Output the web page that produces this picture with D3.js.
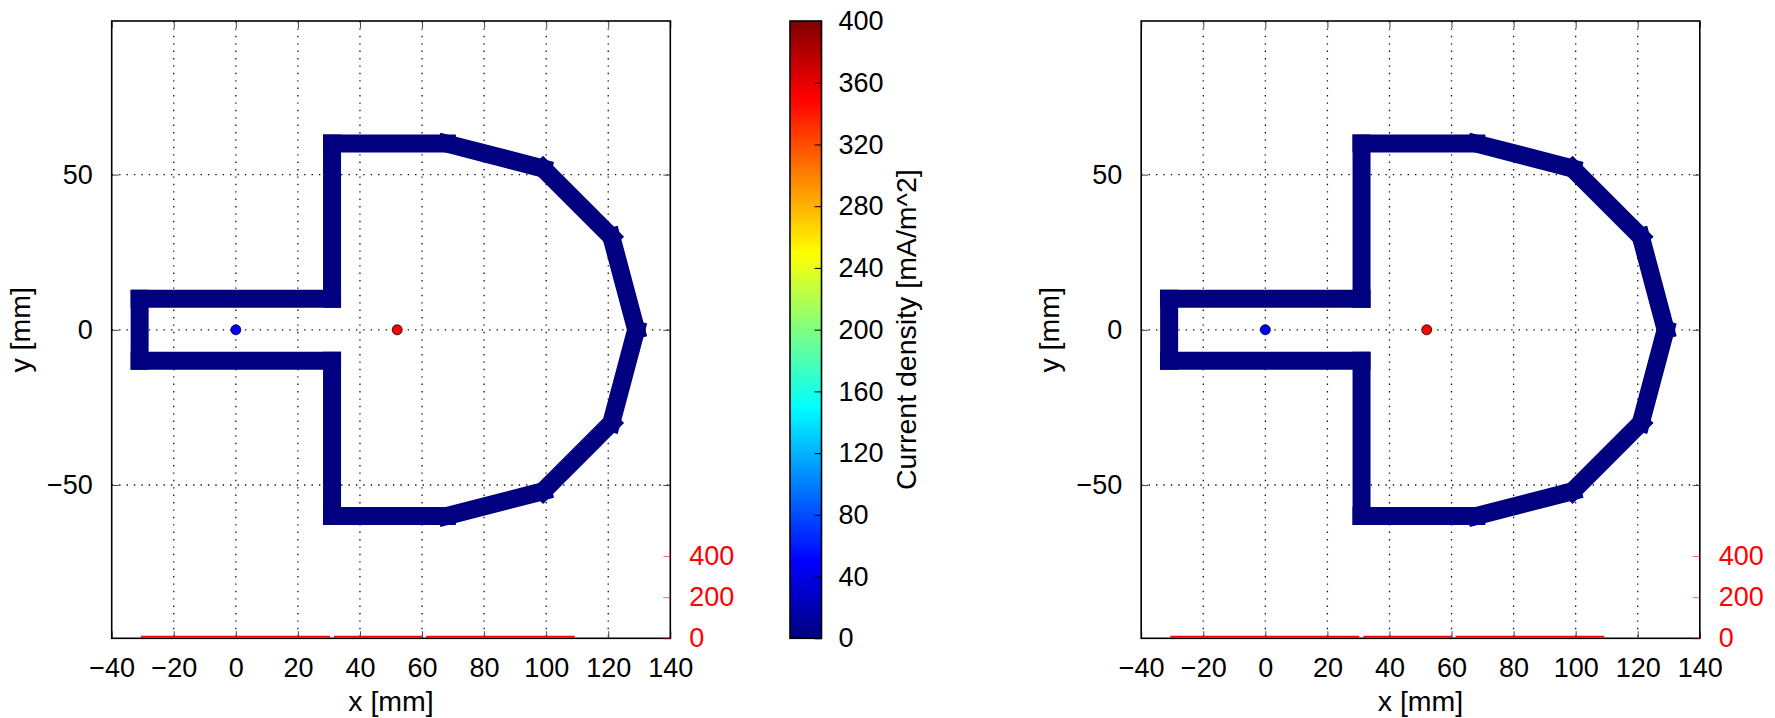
<!DOCTYPE html>
<html>
<head>
<meta charset="utf-8">
<script src="https://cdn.jsdelivr.net/npm/d3@7"></script>
<style>
  html, body { margin: 0; padding: 0; background: #fff; }
  svg { display: block; font-family: "Liberation Sans", Arial, Helvetica, sans-serif; }
</style>
</head>
<body>
<svg id="fig" width="1775" height="718"></svg>
<script>
// ---- data ----
const xTicks = [-40, -20, 0, 20, 40, 60, 80, 100, 120, 140];
const yTicks = [-50, 0, 50];
const densityTicks = [0, 40, 80, 120, 160, 200, 240, 280, 320, 360, 400];
const profileTicks = [0, 200, 400];

// electrode outline vertices [mm], closed back to the first point
const outlineX = [-31, 31, 31, 68, 99, 121, 129, 121, 99, 68, 31, 31, -31];
const outlineY = [10, 10, 60, 60, 52, 30, 0, -30, -52, -60, -60, -10, -10];
// current density on each outline edge [mA/m^2]
const edgeDensity = [0, 0, 0, 0, 0, 0, 0, 0, 0, 0, 0, 0, 0];

// source points
const pointX = [0, 52];
const pointY = [0, 0];
const pointFill = ["#0000ff", "#ff0000"];

// current density profile along x (null = break)
const profileX = [-30.6, 30.3, null, 31.6, 59.9, null, 61.3, 109.2];
const profileV = [8, 8, null, 8, 8, null, 8, 8];

// ---- layout ----
const svg = d3.select("#fig");
const FS = 27;      // tick labels
const FT = 28.5;    // axis titles
const panelLefts = [111.7, 1141.2];
const plotTop = 21, plotBottom = 638.3;
const plotW = 558.6;
const cb = { x: 790, w: 31.5 };

// jet colormap
const jet = d3.scaleLinear()
  .domain([0, 0.125, 0.375, 0.625, 0.875, 1])
  .range(["#000080", "#0000ff", "#00ffff", "#ffff00", "#ff0000", "#800000"])
  .interpolate(d3.interpolateRgb);
const densityScale = d3.scaleLinear().domain([0, 400]).range([0, 1]);

const defs = svg.append("defs");
const grad = defs.append("linearGradient").attr("id", "jetGrad")
  .attr("x1", 0).attr("y1", 1).attr("x2", 0).attr("y2", 0);
d3.range(0, 1.0001, 0.025).forEach(t => {
  grad.append("stop").attr("offset", t).attr("stop-color", jet(t));
});

function drawPanel(left) {
  const x = d3.scaleLinear().domain([-40, 140]).range([left, left + plotW]);
  const y = d3.scaleLinear().domain([-99.4, 99.5]).range([plotBottom, plotTop]);
  const yProf = d3.scaleLinear().domain([0, 3000]).range([plotBottom, plotTop]);
  const g = svg.append("g");

  // dotted grid
  const grid = g.append("g").attr("stroke", "#111").attr("stroke-width", 1.3)
    .attr("stroke-dasharray", "1.4,6");
  grid.selectAll(".gx").data(xTicks.slice(1, -1)).join("line")
    .attr("x1", d => x(d)).attr("x2", d => x(d)).attr("y1", plotTop).attr("y2", plotBottom);
  grid.selectAll(".gy").data(yTicks).join("line")
    .attr("x1", x(-40)).attr("x2", x(140)).attr("y1", d => y(d)).attr("y2", d => y(d));

  // outline edges, one stroke per edge coloured by its density
  const n = outlineX.length;
  const edges = d3.range(n).map(i => ({
    x1: outlineX[i], y1: outlineY[i],
    x2: outlineX[(i + 1) % n], y2: outlineY[(i + 1) % n],
    v: edgeDensity[i]
  }));
  g.append("g").selectAll("line").data(edges).join("line")
    .attr("x1", d => x(d.x1)).attr("y1", d => y(d.y1))
    .attr("x2", d => x(d.x2)).attr("y2", d => y(d.y2))
    .attr("stroke", d => jet(densityScale(d.v)))
    .attr("stroke-width", 18)
    .attr("stroke-linecap", "square");

  // source points
  g.append("g").selectAll("circle").data(pointX).join("circle")
    .attr("cx", (d, i) => x(d)).attr("cy", (d, i) => y(pointY[i]))
    .attr("r", 5).attr("fill", (d, i) => pointFill[i])
    .attr("stroke", "#000").attr("stroke-width", 0.8);

  // axes with inward ticks
  const tickLen = 7;
  const fmt = d => d3.format("d")(d).replace("-", "\u2212");
  const axB = g.append("g").attr("transform", `translate(0,${plotBottom})`)
    .call(d3.axisBottom(x).tickValues(xTicks).tickSize(-tickLen).tickFormat(fmt));
  const axT = g.append("g").attr("transform", `translate(0,${plotTop})`)
    .call(d3.axisTop(x).tickValues(xTicks).tickSize(-tickLen).tickFormat(""));
  const axL = g.append("g").attr("transform", `translate(${left},0)`)
    .call(d3.axisLeft(y).tickValues(yTicks).tickSize(-tickLen).tickFormat(fmt).tickPadding(tickLen + 12));
  const axR = g.append("g").attr("transform", `translate(${left + plotW},0)`)
    .call(d3.axisRight(y).tickValues(yTicks).tickSize(-tickLen).tickFormat(""));
  [axB, axT, axL, axR].forEach(a => {
    a.select(".domain").remove();
    a.selectAll(".tick line").attr("stroke", "#444").attr("stroke-width", 1);
    a.selectAll("text").attr("font-size", FS).attr("fill", "#000").attr("font-family", null);
  });
  axB.selectAll("text").attr("dy", "0.71em").attr("y", 19.5);

  // frame
  g.append("rect").attr("x", left).attr("y", plotTop).attr("width", plotW).attr("height", plotBottom - plotTop)
    .attr("fill", "none").attr("stroke", "#000").attr("stroke-width", 1.6);

  // density profile on the secondary axis
  const prof = profileX.map((d, i) => ({ x: d, v: profileV[i] }));
  g.append("path").datum(prof)
    .attr("fill", "none").attr("stroke", "#ff0000").attr("stroke-width", 2)
    .attr("d", d3.line().defined(d => d.x !== null).x(d => x(d.x)).y(d => yProf(d.v)));

  // secondary (profile) axis on the right
  const axP = g.append("g").attr("transform", `translate(${left + plotW},0)`)
    .call(d3.axisRight(yProf).tickValues(profileTicks).tickSize(-tickLen).tickPadding(tickLen + 12));
  axP.select(".domain").remove();
  axP.selectAll(".tick line").attr("stroke", "#ff0000").attr("stroke-width", 1).attr("opacity", 0.6);
  axP.selectAll("text").attr("font-size", FS).attr("fill", "#ff0000").attr("font-family", null);

  // axis titles
  g.append("text").attr("x", left + plotW / 2).attr("y", 711)
    .attr("text-anchor", "middle").attr("font-size", FT).text("x [mm]");
  g.append("text").attr("transform", `translate(${left - 82},${y(0)}) rotate(-90)`)
    .attr("text-anchor", "middle").attr("font-size", FT).text("y [mm]");
}

panelLefts.forEach(drawPanel);

// colour bar
const cbScale = d3.scaleLinear().domain([0, 400]).range([plotBottom, plotTop]);
const cbG = svg.append("g");
cbG.append("rect").attr("x", cb.x).attr("y", plotTop).attr("width", cb.w).attr("height", plotBottom - plotTop)
  .attr("fill", "url(#jetGrad)");
const cbAx = cbG.append("g").attr("transform", `translate(${cb.x + cb.w},0)`)
  .call(d3.axisRight(cbScale).tickValues(densityTicks).tickSize(-7).tickPadding(17));
cbAx.select(".domain").remove();
cbAx.selectAll(".tick line").attr("stroke", "#000").attr("stroke-width", 1);
cbAx.selectAll("text").attr("font-size", FS).attr("fill", "#000").attr("font-family", null);
cbG.append("rect").attr("x", cb.x).attr("y", plotTop).attr("width", cb.w).attr("height", plotBottom - plotTop)
  .attr("fill", "none").attr("stroke", "#000").attr("stroke-width", 1.6);
cbG.append("text").attr("transform", `translate(916,${(plotTop + plotBottom) / 2}) rotate(-90)`)
  .attr("text-anchor", "middle").attr("font-size", FT).text("Current density [mA/m^2]");
</script>
</body>
</html>
